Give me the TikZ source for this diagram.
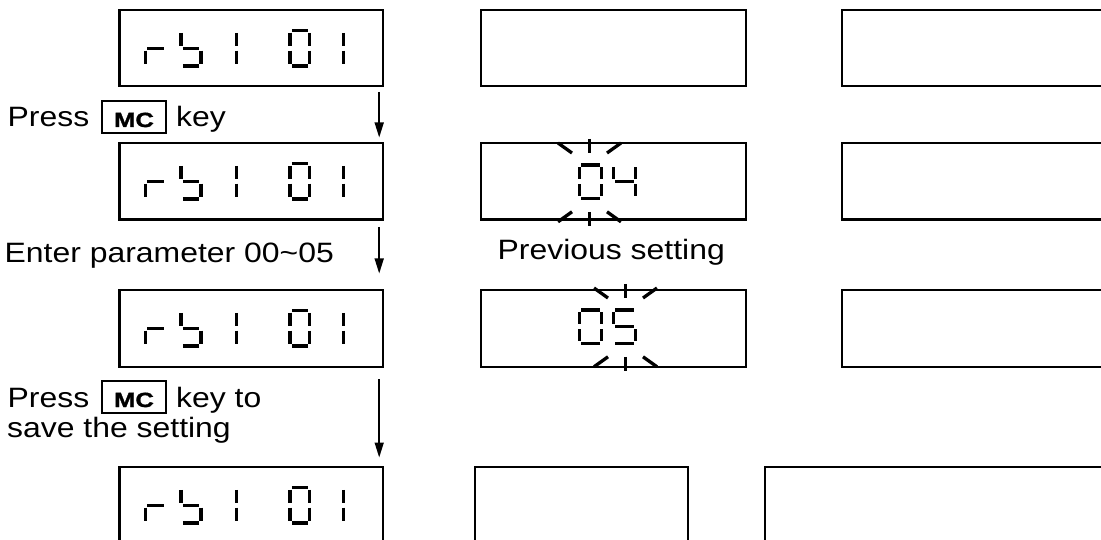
\documentclass[tikz,border=0pt]{standalone}
\usepackage{fontspec}
\setmainfont{Liberation Sans}
\newfontfamily\labfont[FakeStretch=1.14]{Liberation Sans}
\newfontfamily\mcfont[Extension=.ttf,UprightFont=*-Bold,FakeStretch=1.25,FakeBold=1.6]{LiberationSans}
\usetikzlibrary{arrows.meta}
\newcommand\sgset[4]{\def\sgL{#1}\def\sgT{#2}\def\sgW{#3}\def\sgH{#4}}
\newcommand\segxa{\draw[seg] (\sgL+1.8,\sgT) -- (\sgL+\sgW-1.8,\sgT);}
\newcommand\segxb{\draw[seg] (\sgL+\sgW,\sgT+2.4) -- (\sgL+\sgW,\sgT+\sgH/2-2.4);}
\newcommand\segxc{\draw[seg] (\sgL+\sgW,\sgT+\sgH/2+2.4) -- (\sgL+\sgW,\sgT+\sgH-2.4);}
\newcommand\segxd{\draw[seg] (\sgL+1.8,\sgT+\sgH) -- (\sgL+\sgW-1.8,\sgT+\sgH);}
\newcommand\segxe{\draw[seg] (\sgL,\sgT+\sgH/2+2.4) -- (\sgL,\sgT+\sgH-2.4);}
\newcommand\segxf{\draw[seg] (\sgL,\sgT+2.4) -- (\sgL,\sgT+\sgH/2-2.4);}
\newcommand\segxg{\draw[seg] (\sgL+1.8,\sgT+\sgH/2) -- (\sgL+\sgW-1.8,\sgT+\sgH/2);}
\newcommand\dgt[5]{\sgset{#1}{#2}{#3}{#4}\foreach \s in {#5}{\csname segx\s\endcsname}}
\newcommand\mctext{{\fontsize{20.5}{22}\selectfont\mcfont MC}}
% flashing rays around a digit: centre x, digit top, digit bottom
\newcommand\flash[3]{%
  \draw[seg] (#1,#2-26) -- (#1,#2-12);
  \draw[seg] (#1-31.5,#2-22) -- (#1-17.5,#2-12);
  \draw[seg] (#1+31.5,#2-22) -- (#1+17.5,#2-12);
  \draw[seg] (#1,#3+13.5) -- (#1,#3+27.5);
  \draw[seg] (#1-31.5,#3+23.5) -- (#1-17.5,#3+13.5);
  \draw[seg] (#1+31.5,#3+23.5) -- (#1+17.5,#3+13.5);}
\begin{document}
\begin{tikzpicture}[x=1pt,y=-1pt,
  dbox/.style={draw,line width=2.2pt,inner sep=0pt,outer sep=0pt},
  seg/.style={line width=3.3pt},
  lab/.style={font=\labfont\fontsize{28}{32}\selectfont,inner sep=0pt,anchor=base west},
  mckey/.style={draw,line width=1.7pt,
    inner xsep=0pt,inner ysep=0pt,minimum width=64pt,text height=26pt,text depth=6pt,anchor=base},
  arr/.style={line width=1.5pt,-{Triangle[length=15pt,width=9pt]}}]
\useasboundingbox (0,0) rectangle (1101,540);
\clip (0,0) rectangle (1101,540);
% display boxes
\node[dbox,minimum width=263.5pt,minimum height=76pt] (b11) at (251.25,48) {};
\node[dbox,minimum width=265pt,minimum height=76pt] (b12) at (613.5,48) {};
\node[dbox,minimum width=265pt,minimum height=76pt] (b13) at (974.5,48) {};
\node[dbox,minimum width=263.5pt,minimum height=76.5pt] (b21) at (251.25,181.25) {};
\node[dbox,minimum width=265pt,minimum height=76.5pt] (b22) at (613.5,181.25) {};
\node[dbox,minimum width=265pt,minimum height=76.5pt] (b23) at (974.5,181.25) {};
\node[dbox,minimum width=263.5pt,minimum height=77pt] (b31) at (251.25,328.5) {};
\node[dbox,minimum width=265pt,minimum height=77pt] (b32) at (613.5,328.5) {};
\node[dbox,minimum width=265pt,minimum height=77pt] (b33) at (974.5,328.5) {};
\node[dbox,minimum width=263.5pt,minimum height=76pt] (b41) at (251.25,505) {};
\node[dbox,minimum width=212.7pt,minimum height=76pt] (b42) at (581.35,505) {};
\node[dbox,minimum width=345pt,minimum height=76pt] (b43) at (937.5,505) {};
% digits column 1 : r b 1 0 1
\foreach \t in {30.5,163.5,310.5,487.5}{
  \dgt{145.5}{\t}{20}{35.5}{e,g}
  \dgt{181}{\t}{20}{35.5}{f,g,c,d}
  \dgt{236.7}{\t}{20}{35.5}{e,f}
  \dgt{290}{\t}{19.5}{35.5}{a,b,c,d,e,f}
  \dgt{343.3}{\t}{20}{35.5}{e,f}
}
% 04
\dgt{579.5}{165}{22}{33.3}{a,b,c,d,e,f}
\dgt{613.5}{165}{22}{33.3}{f,g,b,c}
\flash{589.5}{165}{198.3}
% 05
\dgt{579.5}{310}{22}{33.3}{a,b,c,d,e,f}
\dgt{613.5}{310}{22}{33.3}{a,f,g,c,d}
\flash{625.5}{310}{343.3}
% texts
\node[lab] (p1) at (7.5,127) {Press};
\node[mckey] (mc1) at (134,127) {\mctext};
\node[lab] (k1) at (176,127) {key};
\node[lab] (ent) at (4.5,263) {Enter parameter 00\char`~05};
\node[lab] (prev) at (497.5,260) {Previous setting};
\node[lab] (p3) at (7.5,407) {Press};
\node[mckey] (mc3) at (134,407) {\mctext};
\node[lab] (k3) at (176,407) {key to};
\node[lab] (sv) at (7,437) {save the setting};
% arrows
\coordinate (a1s) at (379.2,92);
\coordinate (a1e) at (379.2,137.5);
\coordinate (a2s) at (379.2,227);
\coordinate (a2e) at (379.2,273.5);
\coordinate (a3s) at (379.2,379);
\coordinate (a3e) at (379.2,457.5);
\draw[arr] (a1s) -- (a1e);
\draw[arr] (a2s) -- (a2e);
\draw[arr] (a3s) -- (a3e);
\end{tikzpicture}
\end{document}
